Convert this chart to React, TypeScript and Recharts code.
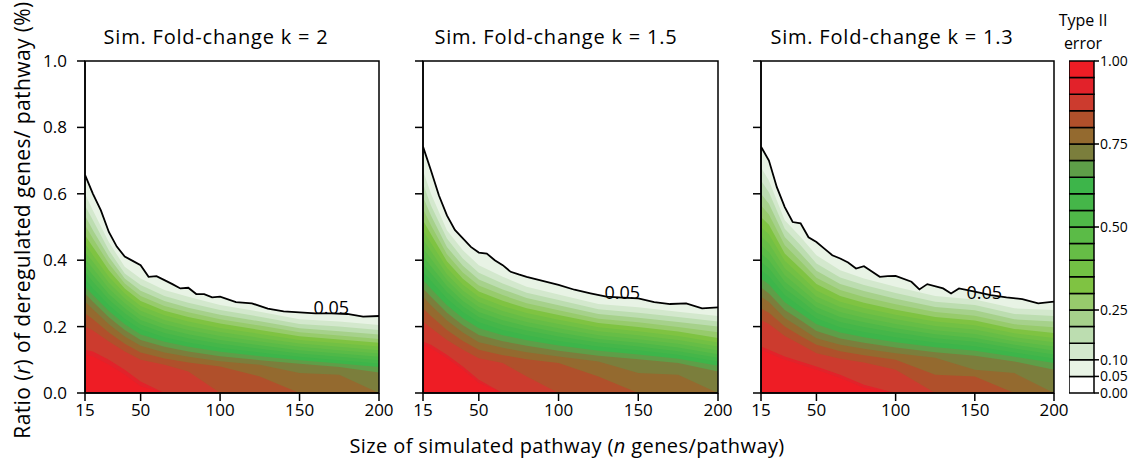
import React from "react";
import {
  ComposedChart,
  Area,
  Line,
  XAxis,
  YAxis,
  ReferenceArea,
  ReferenceDot,
  BarChart,
  Bar,
} from "recharts";

const FONT = "'Open Sans', 'Noto Sans', sans-serif";

// colour of each Type II error band, from 0.00-0.05 up to 0.95-1.00
const BAND_COLORS = [
  "#FFFFFF", "#E8F3E5", "#D3E8CD", "#BCDDB0", "#A6D18B",
  "#97CB6C", "#7FC342", "#72C044", "#66BD46", "#5BBB47",
  "#4FB848", "#45B649", "#3DB54A", "#5E9E48", "#7B7E3C",
  "#946A2F", "#B0502B", "#CC3B2E", "#E2222A", "#EE1D25",
];
const BAND_WIDTHS = BAND_COLORS.map(() => 0.05);
const COLORBAR_TICKS = [0, 0.05, 0.1, 0.25, 0.5, 0.75, 1];

const X_TICKS = [15, 50, 100, 150, 200];
const Y_TICKS = [0, 0.2, 0.4, 0.6, 0.8, 1.0];

// pathway sizes at which the inner contour levels were read
const N_GRID = [15, 20, 30, 40, 50, 65, 80, 100, 125, 150, 175, 200];

// r where Type II error = 0.10, 0.15, ... 0.95 (one row per level)
const K2_LEVELS = [
  [0.6, 0.55, 0.455, 0.38, 0.345, 0.31, 0.29, 0.265, 0.245, 0.222, 0.215, 0.205],
  [0.565, 0.52, 0.43, 0.36, 0.325, 0.292, 0.272, 0.25, 0.23, 0.208, 0.2, 0.19],
  [0.535, 0.49, 0.41, 0.345, 0.308, 0.277, 0.257, 0.236, 0.216, 0.195, 0.186, 0.176],
  [0.505, 0.465, 0.39, 0.33, 0.292, 0.262, 0.243, 0.222, 0.203, 0.183, 0.173, 0.163],
  [0.475, 0.44, 0.37, 0.315, 0.277, 0.248, 0.229, 0.209, 0.19, 0.171, 0.161, 0.151],
  [0.45, 0.415, 0.35, 0.3, 0.262, 0.234, 0.215, 0.196, 0.178, 0.16, 0.15, 0.14],
  [0.425, 0.395, 0.332, 0.285, 0.248, 0.22, 0.202, 0.184, 0.166, 0.149, 0.139, 0.129],
  [0.405, 0.375, 0.315, 0.27, 0.234, 0.207, 0.19, 0.172, 0.155, 0.139, 0.129, 0.119],
  [0.385, 0.355, 0.298, 0.255, 0.22, 0.194, 0.177, 0.16, 0.144, 0.129, 0.119, 0.109],
  [0.365, 0.335, 0.282, 0.24, 0.206, 0.181, 0.165, 0.148, 0.133, 0.119, 0.109, 0.099],
  [0.345, 0.315, 0.265, 0.224, 0.192, 0.168, 0.152, 0.136, 0.122, 0.109, 0.099, 0.089],
  [0.32, 0.295, 0.247, 0.207, 0.176, 0.154, 0.139, 0.124, 0.111, 0.099, 0.089, 0.078],
  [0.3, 0.275, 0.228, 0.19, 0.16, 0.139, 0.125, 0.111, 0.099, 0.088, 0.078, 0.062],
  [0.275, 0.252, 0.207, 0.17, 0.142, 0.122, 0.109, 0.096, 0.085, 0.06, 0.055, 0],
  [0.24, 0.222, 0.182, 0.148, 0.122, 0.104, 0.092, 0.08, 0.05, 0, 0, 0],
  [0.2, 0.188, 0.155, 0.125, 0.1, 0.085, 0.065, 0, 0, 0, 0, 0],
  [0.13, 0.125, 0.1, 0.07, 0.035, 0, 0, 0, 0, 0, 0, 0],
  [0.115, 0.11, 0.085, 0.055, 0.02, 0, 0, 0, 0, 0, 0, 0],
];

const K15_LEVELS = [
  [0.67, 0.6, 0.49, 0.43, 0.385, 0.35, 0.32, 0.297, 0.268, 0.258, 0.245, 0.232],
  [0.63, 0.565, 0.465, 0.405, 0.362, 0.33, 0.302, 0.28, 0.252, 0.242, 0.229, 0.215],
  [0.59, 0.535, 0.44, 0.383, 0.342, 0.312, 0.286, 0.264, 0.238, 0.227, 0.214, 0.2],
  [0.555, 0.505, 0.418, 0.363, 0.324, 0.295, 0.27, 0.249, 0.224, 0.213, 0.199, 0.183],
  [0.52, 0.478, 0.397, 0.344, 0.306, 0.278, 0.255, 0.235, 0.211, 0.199, 0.185, 0.166],
  [0.49, 0.452, 0.377, 0.326, 0.29, 0.262, 0.241, 0.221, 0.198, 0.186, 0.172, 0.152],
  [0.462, 0.427, 0.358, 0.309, 0.274, 0.247, 0.227, 0.208, 0.186, 0.174, 0.16, 0.14],
  [0.436, 0.404, 0.34, 0.293, 0.259, 0.233, 0.214, 0.195, 0.174, 0.162, 0.148, 0.128],
  [0.412, 0.382, 0.322, 0.277, 0.244, 0.219, 0.201, 0.182, 0.163, 0.151, 0.137, 0.117],
  [0.389, 0.36, 0.304, 0.261, 0.229, 0.205, 0.188, 0.17, 0.152, 0.14, 0.126, 0.106],
  [0.365, 0.338, 0.285, 0.244, 0.213, 0.19, 0.174, 0.157, 0.14, 0.129, 0.115, 0.095],
  [0.34, 0.314, 0.264, 0.225, 0.195, 0.174, 0.159, 0.143, 0.127, 0.116, 0.103, 0.082],
  [0.315, 0.29, 0.242, 0.204, 0.175, 0.156, 0.142, 0.127, 0.112, 0.102, 0.09, 0.065],
  [0.29, 0.264, 0.218, 0.182, 0.153, 0.136, 0.123, 0.11, 0.095, 0.06, 0.055, 0],
  [0.255, 0.232, 0.19, 0.157, 0.13, 0.114, 0.102, 0.09, 0.05, 0, 0, 0],
  [0.215, 0.196, 0.16, 0.13, 0.105, 0.09, 0.05, 0, 0, 0, 0, 0],
  [0.155, 0.145, 0.115, 0.08, 0.04, 0, 0, 0, 0, 0, 0, 0],
  [0.145, 0.135, 0.105, 0.07, 0.03, 0, 0, 0, 0, 0, 0, 0],
];

const K13_LEVELS = [
  [0.68, 0.64, 0.52, 0.47, 0.415, 0.37, 0.345, 0.32, 0.292, 0.282, 0.255, 0.25],
  [0.64, 0.605, 0.495, 0.445, 0.39, 0.348, 0.325, 0.301, 0.275, 0.265, 0.238, 0.232],
  [0.6, 0.57, 0.47, 0.42, 0.368, 0.328, 0.307, 0.284, 0.259, 0.249, 0.222, 0.215],
  [0.565, 0.538, 0.445, 0.397, 0.347, 0.31, 0.289, 0.267, 0.244, 0.233, 0.207, 0.198],
  [0.53, 0.507, 0.42, 0.375, 0.328, 0.292, 0.272, 0.251, 0.229, 0.218, 0.193, 0.181],
  [0.5, 0.478, 0.398, 0.354, 0.309, 0.275, 0.256, 0.236, 0.215, 0.204, 0.18, 0.166],
  [0.472, 0.45, 0.376, 0.334, 0.291, 0.259, 0.241, 0.222, 0.202, 0.191, 0.168, 0.153],
  [0.445, 0.424, 0.355, 0.315, 0.274, 0.244, 0.227, 0.208, 0.189, 0.178, 0.156, 0.14],
  [0.42, 0.4, 0.335, 0.297, 0.258, 0.229, 0.213, 0.195, 0.177, 0.166, 0.145, 0.128],
  [0.395, 0.376, 0.315, 0.279, 0.242, 0.214, 0.199, 0.182, 0.165, 0.154, 0.134, 0.116],
  [0.37, 0.352, 0.295, 0.26, 0.225, 0.198, 0.184, 0.168, 0.152, 0.141, 0.122, 0.104],
  [0.345, 0.327, 0.273, 0.24, 0.207, 0.182, 0.168, 0.153, 0.138, 0.127, 0.109, 0.09],
  [0.318, 0.3, 0.25, 0.219, 0.187, 0.164, 0.151, 0.137, 0.123, 0.112, 0.095, 0.07],
  [0.29, 0.274, 0.226, 0.196, 0.165, 0.145, 0.133, 0.12, 0.106, 0.07, 0.06, 0],
  [0.255, 0.242, 0.2, 0.172, 0.145, 0.126, 0.114, 0.1, 0.055, 0.05, 0, 0],
  [0.22, 0.208, 0.172, 0.146, 0.12, 0.103, 0.092, 0.07, 0, 0, 0, 0],
  [0.14, 0.13, 0.11, 0.095, 0.08, 0.055, 0.025, 0, 0, 0, 0, 0],
  [0.13, 0.12, 0.1, 0.085, 0.07, 0.045, 0.015, 0, 0, 0, 0, 0],
];

// the labelled 0.05 contour, read more densely
const K2_LINE_N = [15, 20, 25, 30, 35, 40, 45, 50, 55, 60, 65, 70, 75, 80, 85, 90, 95, 100, 110, 120, 130, 140, 150, 160, 170, 180, 190, 200];
const K2_LINE_R = [0.657, 0.6, 0.55, 0.485, 0.441, 0.411, 0.398, 0.385, 0.35, 0.352, 0.34, 0.328, 0.315, 0.317, 0.298, 0.298, 0.288, 0.29, 0.274, 0.27, 0.254, 0.246, 0.243, 0.24, 0.24, 0.238, 0.23, 0.232];

const K15_LINE_N = [15, 20, 25, 30, 35, 40, 45, 50, 55, 60, 65, 70, 75, 80, 85, 90, 95, 100, 110, 120, 130, 140, 150, 160, 170, 180, 190, 200];
const K15_LINE_R = [0.742, 0.67, 0.595, 0.535, 0.491, 0.466, 0.44, 0.423, 0.42, 0.4, 0.385, 0.365, 0.357, 0.35, 0.344, 0.338, 0.332, 0.326, 0.311, 0.3, 0.29, 0.287, 0.285, 0.274, 0.268, 0.27, 0.255, 0.258];

const K13_LINE_N = [15, 20, 25, 30, 35, 40, 45, 50, 55, 60, 65, 70, 75, 80, 85, 90, 95, 100, 110, 115, 120, 130, 135, 140, 150, 160, 170, 180, 190, 200];
const K13_LINE_R = [0.742, 0.7, 0.62, 0.56, 0.515, 0.511, 0.469, 0.455, 0.435, 0.415, 0.405, 0.393, 0.375, 0.382, 0.366, 0.35, 0.352, 0.353, 0.335, 0.312, 0.328, 0.315, 0.3, 0.315, 0.305, 0.295, 0.288, 0.283, 0.27, 0.275];

const PANELS = [
  { title: "Sim. Fold-change k = 2", levels: K2_LEVELS, lineN: K2_LINE_N, lineR: K2_LINE_R, label: [170, 0.256], left: 85, width: 294, titleX: 216 },
  { title: "Sim. Fold-change k = 1.5", levels: K15_LEVELS, lineN: K15_LINE_N, lineR: K15_LINE_R, label: [140, 0.302], left: 423, width: 295, titleX: 556 },
  { title: "Sim. Fold-change k = 1.3", levels: K13_LEVELS, lineN: K13_LINE_N, lineR: K13_LINE_R, label: [156, 0.302], left: 761, width: 293, titleX: 892 },
];

const axisProps = { stroke: "#000", strokeWidth: 1.5 };
const tickFont = { fontSize: 17, fill: "#000", fontFamily: FONT };

const Panel = ({ panel, showY }: { panel: (typeof PANELS)[number]; showY: boolean }) => {
  const lineData = panel.lineN.map((n, i) => ({ n, r: panel.lineR[i] }));
  return (
    <div style={{ position: "absolute", left: panel.left - 45, top: 0 }}>
      <ComposedChart width={panel.width + 62} height={459} margin={{ top: 61, right: 17, bottom: 36, left: 0 }}>
        <XAxis
          type="number"
          dataKey="n"
          domain={[15, 200]}
          ticks={X_TICKS}
          interval={0}
          height={30}
          tickSize={8}
          tickMargin={3}
          tick={tickFont}
          axisLine={axisProps}
          tickLine={axisProps}
          allowDataOverflow
        />
        <YAxis
          type="number"
          domain={[0, 1]}
          ticks={Y_TICKS}
          interval={0}
          width={45}
          tickSize={8}
          tickMargin={10}
          tick={tickFont}
          tickFormatter={(v: number) => (showY ? v.toFixed(1) : "")}
          axisLine={axisProps}
          tickLine={axisProps}
          allowDataOverflow
        />
        <Area
          data={lineData}
          dataKey="r"
          type="linear"
          baseValue={0}
          fill={BAND_COLORS[1]}
          fillOpacity={1}
          stroke="none"
          isAnimationActive={false}
        />
        {panel.levels.map((row, j) => (
          <Area
            key={j}
            data={N_GRID.map((n, i) => ({ n, r: row[i] }))}
            dataKey="r"
            type="linear"
            baseValue={0}
            fill={BAND_COLORS[j + 2]}
            fillOpacity={1}
            stroke="none"
            isAnimationActive={false}
          />
        ))}
        <Line
          data={lineData}
          dataKey="r"
          type="linear"
          stroke="#000"
          strokeWidth={1.8}
          dot={false}
          isAnimationActive={false}
        />
        <ReferenceDot
          x={panel.label[0]}
          y={panel.label[1]}
          r={0}
          fill="none"
          stroke="none"
          label={{ value: "0.05", position: "center", fontSize: 18, fill: "#000", fontFamily: FONT }}
        />
        <ReferenceArea x1={15} x2={200} y1={0} y2={1} fill="none" stroke="#000" strokeWidth={1.5} />
      </ComposedChart>
    </div>
  );
};

const ColorBar = () => {
  const row: Record<string, number | string> = { name: "bar" };
  BAND_WIDTHS.forEach((w, i) => (row["b" + i] = w));
  return (
    <div style={{ position: "absolute", left: 1069, top: 0 }}>
      <BarChart width={72} height={459} data={[row]} margin={{ top: 61, right: 0, bottom: 66, left: 0 }} barCategoryGap={0}>
        <XAxis dataKey="name" hide />
        <YAxis
          orientation="right"
          type="number"
          domain={[0, 1]}
          ticks={COLORBAR_TICKS}
          interval={0}
          width={47}
          tickSize={5}
          tickMargin={1}
          tick={{ fontSize: 14, fill: "#000", fontFamily: FONT }}
          tickFormatter={(v: number) => v.toFixed(2)}
          axisLine={false}
          tickLine={axisProps}
        />
        {BAND_WIDTHS.map((_, i) => (
          <Bar
            key={i}
            dataKey={"b" + i}
            stackId="c"
            fill={BAND_COLORS[i]}
            stroke="#000"
            strokeWidth={1.5}
            isAnimationActive={false}
          />
        ))}
      </BarChart>
    </div>
  );
};

export default function App() {
  const text = { position: "absolute" as const, fontFamily: FONT, color: "#000", whiteSpace: "nowrap" as const };
  return (
    <div style={{ position: "absolute", left: 0, top: 0, width: 1141, height: 459, background: "#fff", overflow: "hidden" }}>
      {PANELS.map((p, i) => (
        <Panel key={p.title} panel={p} showY={i === 0} />
      ))}
      {PANELS.map((p) => (
        <div key={p.title + "t"} style={{ ...text, left: p.titleX, top: 23, fontSize: 20, letterSpacing: 0.8, transform: "translateX(-50%)" }}>
          {p.title}
        </div>
      ))}
      <ColorBar />
      <div style={{ ...text, left: 1083, top: 9, fontSize: 16, lineHeight: "23px", textAlign: "center", transform: "translateX(-50%)" }}>
        Type II
        <br />
        error
      </div>
      <div style={{ ...text, left: 567, top: 432, fontSize: 20, letterSpacing: 0.4, transform: "translateX(-50%)" }}>
        Size of simulated pathway (<i>n</i> genes/pathway)
      </div>
      <div
        style={{
          ...text,
          left: 22,
          top: 220,
          fontSize: 21,
          letterSpacing: 0.4,
          transform: "translate(-50%, -50%) rotate(-90deg)",
        }}
      >
        Ratio (<i>r</i>) of deregulated genes/ pathway (%)
      </div>
    </div>
  );
}
